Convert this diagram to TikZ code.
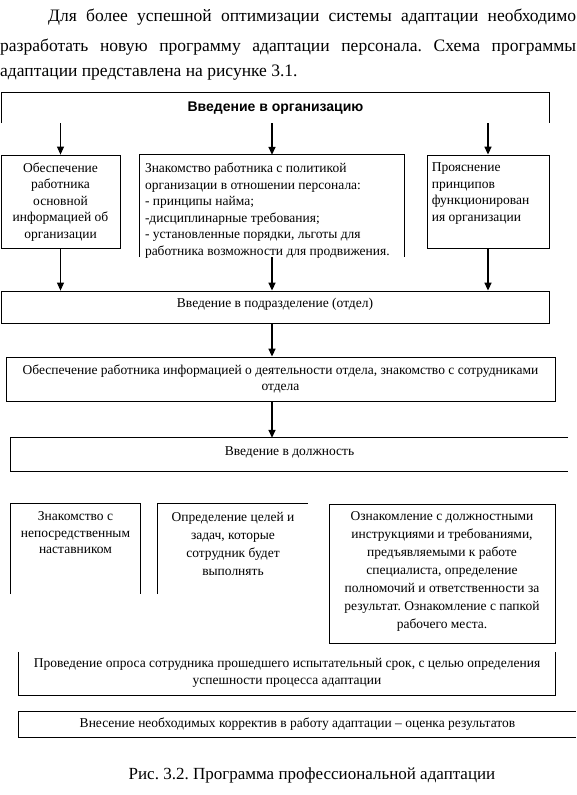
\documentclass[tikz,border=0pt]{standalone}
\usepackage{fontspec}
\setmainfont{Liberation Serif}
\newfontfamily\headfont{Liberation Sans}
\usetikzlibrary{arrows.meta,positioning,calc}
\frenchspacing

\begin{document}
\begin{tikzpicture}[x=1pt,y=-1pt,
  plain/.style={rectangle,inner sep=0pt,font=\fontsize{13.5}{16.5}\selectfont},
  box/.style={plain,draw,line width=0.8pt},
  edge/.style={line width=0.8pt},
  txt/.style={inner sep=0pt,font=\fontsize{13.5}{16.5}\selectfont,align=center},
  txtl/.style={txt,align=left},
  arr/.style={line width=1.5pt,-{Triangle[length=8pt,width=7pt]}},
  para/.style={inner sep=0pt,font=\fontsize{17.5}{20}\selectfont}]
\useasboundingbox (0,0) rectangle (576,795);
% text above the scheme
\node[para,anchor=base west] (p1) at (48,21) {\makebox[528pt][s]{Для более успешной оптимизации системы адаптации необходимо}};
\node[para,anchor=base west] (p2) at (0,51) {\makebox[576pt][s]{разработать новую программу адаптации персонала. Схема программы}};
\node[para,anchor=base west] (p3) at (0,76) {адаптации представлена на рисунке 3.1.};
% introduction into the organisation
\node[plain,minimum width=547pt,minimum height=30pt,font=\headfont\bfseries\fontsize{14}{16}\selectfont] (intro) at (275.5,108) {Введение в организацию};
\draw[edge] (intro.south west) -- (intro.north west) -- (intro.north east) -- (intro.south east);
\node[box,minimum width=119pt,minimum height=93pt] (b1) at (60.5,201.5) {};
\node[plain,minimum width=264pt,minimum height=102pt] (b2) at (272,206) {};
\draw[edge] (b2.south west) -- (b2.north west) -- (b2.north east) -- (b2.south east);
\node[box,minimum width=122pt,minimum height=93pt] (b3) at (488,201.5) {};
\node[txt,below=8pt of b1.north] (b1-t) {Обеспечение\\работника\\основной\\информацией об\\организации};
\node[txtl,below right=8pt and 5pt of b2.north west] (b2-t) {Знакомство работника с политикой\\организации в отношении персонала:\\- принципы найма;\\-дисциплинарные требования;\\- установленные порядки, льготы для\\работника возможности для продвижения.};
\node[txtl,below right=8pt and 5pt of b3.north west] (b3-t) {Прояснение\\принципов\\функционирован\\ия организации};
\draw[arr,line width=0.9pt] (intro.south -| b1.north) -- (b1.north);
\draw[arr] (intro.south -| b2.north) -- (b2.north);
\draw[arr] (intro.south -| b3.north) -- (b3.north);
% department
\node[box,minimum width=548pt,minimum height=32pt] (dept) at (275,307) {};
\node[txt] (dept-t) at ($(dept)+(0,-3)$) {Введение в подразделение (отдел)};
\draw[arr,line width=0.9pt] (b1.south) -- (b1.south |- dept.north);
\draw[arr] (b2.south) -- (b2.south |- dept.north);
\draw[arr] (b3.south) -- (b3.south |- dept.north);
\node[box,minimum width=549pt,minimum height=44pt,align=center] (info) at (280.5,379) {Обеспечение работника информацией о деятельности отдела, знакомство с сотрудниками\\отдела};
\draw[arr] (dept.south -| b2.south) -- (info.north -| b2.south);
% position
\node[plain,minimum width=557pt,minimum height=33pt] (post) at (289.5,454.5) {};
\draw[edge] (post.north east) -- (post.north west) -- (post.south west) -- (post.south east);
\node[txt] (post-t) at ($(post)+(0,-2)$) {Введение в должность};
\draw[arr] (info.south -| b2.south) -- (post.north -| b2.south);
% row of tasks
\node[plain,minimum width=129pt,minimum height=90pt] (ta) at (75.5,549) {};
\draw[edge] (ta.south west) -- (ta.north west) -- (ta.north east) -- (ta.south east);
\node[plain,minimum width=150pt,minimum height=90pt] (tb) at (233,549) {};
\draw[edge] (tb.south west) -- (tb.north west) -- (tb.north east);
\node[box,minimum width=226pt,minimum height=139pt] (tc) at (442,573.5) {};
\node[txt,below=8pt of ta.north] (ta-t) {Знакомство с\\непосредственным\\наставником};
\node[txt,below=8pt of tb.north,font=\fontsize{13.5}{18}\selectfont] (tb-t) {Определение целей и\\задач, которые\\сотрудник будет\\выполнять};
\node[txt,below=8pt of tc.north,font=\fontsize{13.5}{18}\selectfont] (tc-t) {Ознакомление с должностными\\инструкциями и требованиями,\\предъявляемыми к работе\\специалиста, определение\\полномочий и ответственности за\\результат. Ознакомление с папкой\\рабочего места.};
% survey and corrections
\node[plain,minimum width=536pt,minimum height=43pt] (survey) at (287,673.5) {};
\draw[edge] (survey.north west) -- (survey.south west) -- (survey.south east) -- (survey.north east);
\node[txt,below=6.5pt of survey.north] (survey-t) {Проведение опроса сотрудника прошедшего испытательный срок, с целью определения\\успешности процесса адаптации};
\node[plain,minimum width=557pt,minimum height=25pt] (fix) at (297.5,724.5) {};
\draw[edge] (fix.north east) -- (fix.north west) -- (fix.south west) -- (fix.south east);
\node[txt] (fix-t) at (fix) {Внесение необходимых корректив в работу адаптации – оценка результатов};
% caption
\node[para,font=\fontsize{17}{20}\selectfont] (cap) at (312,775) {Рис. 3.2. Программа профессиональной адаптации};
\end{tikzpicture}
\end{document}
